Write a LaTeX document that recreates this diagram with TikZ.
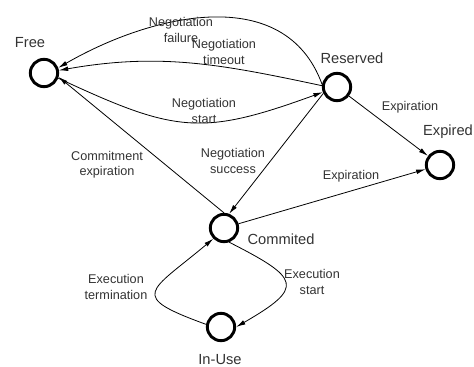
\documentclass[tikz,border=0pt]{standalone}
\usepackage{fontspec}
\setmainfont{Liberation Sans}
\usetikzlibrary{arrows.meta}

\tikzset{
    state/.style={circle, draw=black, line width=2.2pt, minimum size=20.5pt, inner sep=0pt},
    statename/.style={text=black!80, font=\fontsize{11}{13}\selectfont},
    trans/.style={text=black!80, align=center, font=\fontsize{9.5}{11.4}\selectfont},
    edge/.style={-{Latex[length=7pt,width=3.5pt]}, line width=0.6pt}
}

\begin{document}
\begin{tikzpicture}[x=0.75pt, y=0.75pt]
    \useasboundingbox (0,0) rectangle (474,367);

    \node[state] (free) at (44,294) {};
    \node[state] (reserved) at (337,280) {};
    \node[state] (expired) at (440,202) {};
    \node[state] (commited) at (224,139) {};
    \node[state] (inuse) at (221,40) {};

    \node[statename] (free-lbl) at (30,324) {Free};
    \node[statename] (reserved-lbl) at (352,309) {Reserved};
    \node[statename] (expired-lbl) at (448,235) {Expired};
    \node[statename] (commited-lbl) at (281,128) {Commited};
    \node[statename] (inuse-lbl) at (220,7) {In-Use};

    \draw[edge] (reserved.170) to[out=110, in=30, looseness=1.05] (free.20);
    \draw[edge] (reserved.175) to[out=168, in=10] (free.10);
    \draw[edge] (free.-20) to[out=-25, in=200, looseness=1.25] (reserved.200);
    \draw[edge] (commited.north) -- (free.-15);
    \draw[edge] (reserved.205) -- (commited.70);
    \draw[edge] (reserved) -- (expired);
    \draw[edge] (commited) -- (expired);
    \draw[edge] (commited.-70) to[out=-27, in=30, looseness=2.4] (inuse.east);
    \draw[edge] (inuse.170) to[out=160, in=220, looseness=2.5] (commited.225);

    \node[trans] (failure-lbl) at (181,337) {Negotiation\\failure};
    \node[trans] (timeout-lbl) at (224,315) {Negotiation\\timeout};
    \node[trans] (start-lbl) at (204,256) {Negotiation\\start};
    \node[trans] (commitexp-lbl) at (107,202) {Commitment\\expiration};
    \node[trans] (success-lbl) at (233,206) {Negotiation\\success};
    \node[trans] (resexp-lbl) at (410,260) {Expiration};
    \node[trans] (comexp-lbl) at (351,191) {Expiration};
    \node[trans] (execstart-lbl) at (312,85) {Execution\\start};
    \node[trans] (execterm-lbl) at (116,80) {Execution\\termination};

\end{tikzpicture}
\end{document}
